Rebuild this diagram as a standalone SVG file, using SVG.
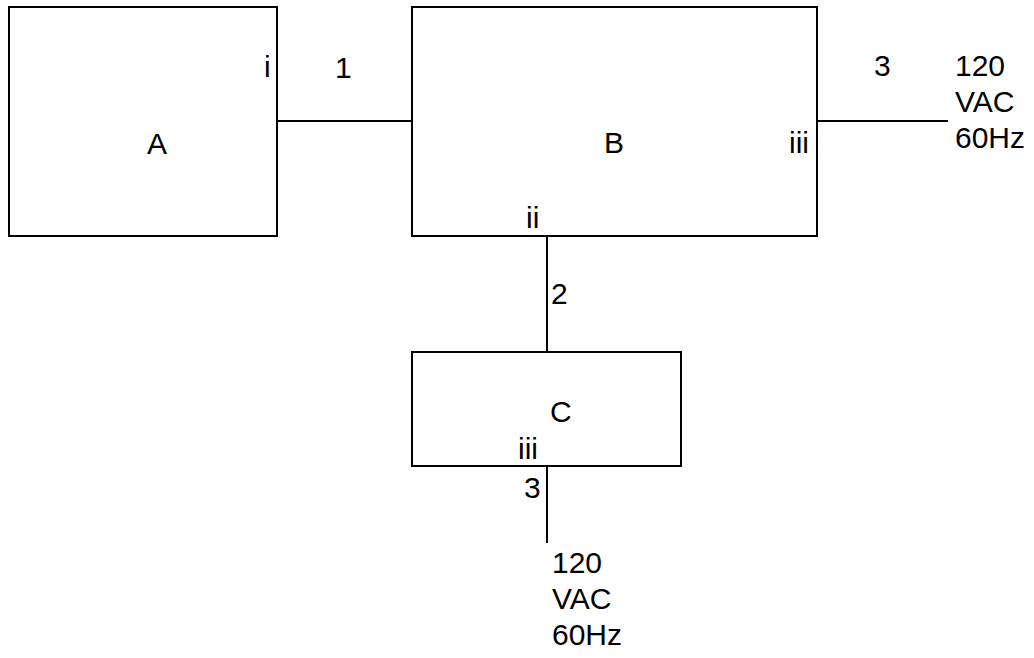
<svg xmlns="http://www.w3.org/2000/svg" width="1034" height="658" viewBox="0 0 1034 658">
  <style>
    .box { fill: #ffffff; stroke: #000000; stroke-width: 2; }
    .wire { stroke: #000000; stroke-width: 2; fill: none; }
    text { font-family: "Liberation Sans", Arial, sans-serif; font-size: 30px; fill: #000000; }
  </style>
  <rect width="1034" height="658" fill="#ffffff"/>
  <g id="connectors">
    <line class="wire" x1="277" y1="121" x2="412" y2="121"/>
    <line class="wire" x1="817" y1="121" x2="948" y2="121"/>
    <line class="wire" x1="547" y1="236" x2="547" y2="352"/>
    <line class="wire" x1="547" y1="466" x2="547" y2="543"/>
    <text x="335" y="78">1</text>
    <text x="874" y="76">3</text>
    <text x="551" y="304">2</text>
    <text x="524" y="498">3</text>
  </g>
  <g id="node-A">
    <rect class="box" x="9" y="7" width="268" height="229"/>
    <text x="157" y="154" text-anchor="middle">A</text>
    <text x="264" y="77">i</text>
  </g>
  <g id="node-B">
    <rect class="box" x="412" y="7" width="405" height="229"/>
    <text x="614" y="153" text-anchor="middle">B</text>
    <text x="789" y="153">iii</text>
    <text x="526" y="228">ii</text>
  </g>
  <g id="node-C">
    <rect class="box" x="412" y="352" width="269" height="114"/>
    <text x="550" y="422">C</text>
    <text x="518" y="459">iii</text>
  </g>
  <g id="source-right">
    <text x="955" y="76">120</text>
    <text x="955" y="112">VAC</text>
    <text x="955" y="148">60Hz</text>
  </g>
  <g id="source-bottom">
    <text x="552" y="573">120</text>
    <text x="552" y="609">VAC</text>
    <text x="552" y="645">60Hz</text>
  </g>
</svg>
